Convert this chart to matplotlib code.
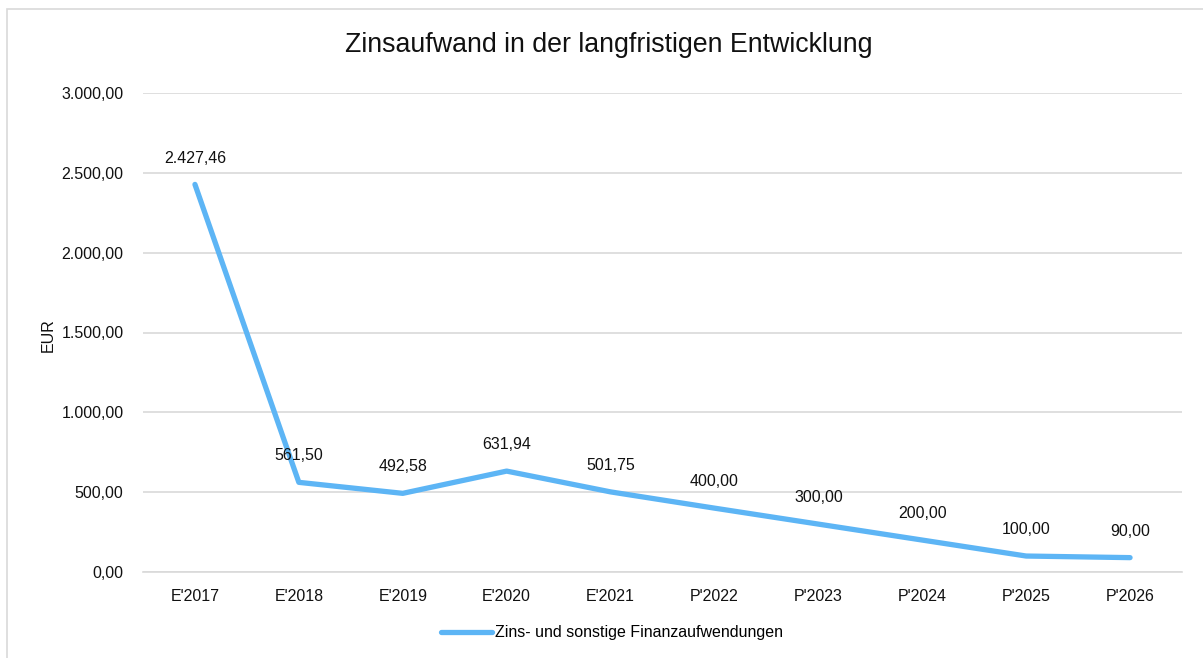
import matplotlib.pyplot as plt
from matplotlib.patches import Rectangle

plt.rcParams['font.family'] = ['Liberation Sans', 'DejaVu Sans']

# Daten
kategorien = ["E'2017", "E'2018", "E'2019", "E'2020", "E'2021",
              "P'2022", "P'2023", "P'2024", "P'2025", "P'2026"]
zinsaufwand = [2427.46, 561.50, 492.58, 631.94, 501.75,
               400.00, 300.00, 200.00, 100.00, 90.00]
y_ticks = [0, 500, 1000, 1500, 2000, 2500, 3000]


def de_format(v):
    s = f"{v:,.2f}"
    return s.replace(",", "X").replace(".", ",").replace("X", ".")


W, H = 1203, 658
fig = plt.figure(figsize=(W / 100, H / 100), dpi=100)
ax = fig.add_axes([143 / W, 1 - 572 / H, 1039 / W, (572 - 93) / H])

# Rahmen um das Diagramm
fig.patches.append(Rectangle((7 / W, -0.1), 1.2, 1 - 9 / H + 0.1,
                             transform=fig.transFigure, fill=False,
                             edgecolor='#d9d9d9', linewidth=1.2))

x = list(range(len(kategorien)))
ax.plot(x, zinsaufwand, color='#5db5f5', linewidth=3.8,
        solid_capstyle='round', label='Zins- und sonstige Finanzaufwendungen')

for xi, v in zip(x, zinsaufwand):
    ax.annotate(de_format(v), (xi, v), textcoords='offset points',
                xytext=(0, 19), ha='center', va='center', fontsize=11.5,
                color='#111111')

ax.set_xlim(-0.5, len(kategorien) - 0.5)
ax.set_ylim(0, 3000)
ax.set_yticks(y_ticks)
ax.set_yticklabels([de_format(t) for t in y_ticks])
ax.set_xticks(x)
ax.set_xticklabels(kategorien)
ax.tick_params(length=0, labelsize=11.5, colors='#111111', pad=12)
ax.tick_params(axis='y', pad=14)
ax.grid(axis='y', color='#d9d9d9', linewidth=1.2)
ax.set_axisbelow(True)
for s in ['top', 'right', 'left']:
    ax.spines[s].set_visible(False)
ax.spines['bottom'].set_color('#d9d9d9')
ax.spines['bottom'].set_linewidth(1.2)

fig.text(48 / W, 1 - 335 / H, 'EUR', rotation=90, ha='center', va='center',
         fontsize=11.5, color='#111111')
fig.text(609 / W, 1 - 45 / H, 'Zinsaufwand in der langfristigen Entwicklung',
         ha='center', va='center', fontsize=19.3, color='#111111')

fig.legend(loc='center', bbox_to_anchor=(612 / W, 1 - 633 / H), frameon=False,
           fontsize=11.5, handlelength=3.2, handletextpad=0.2)

fig.savefig('out.png', dpi=100)
